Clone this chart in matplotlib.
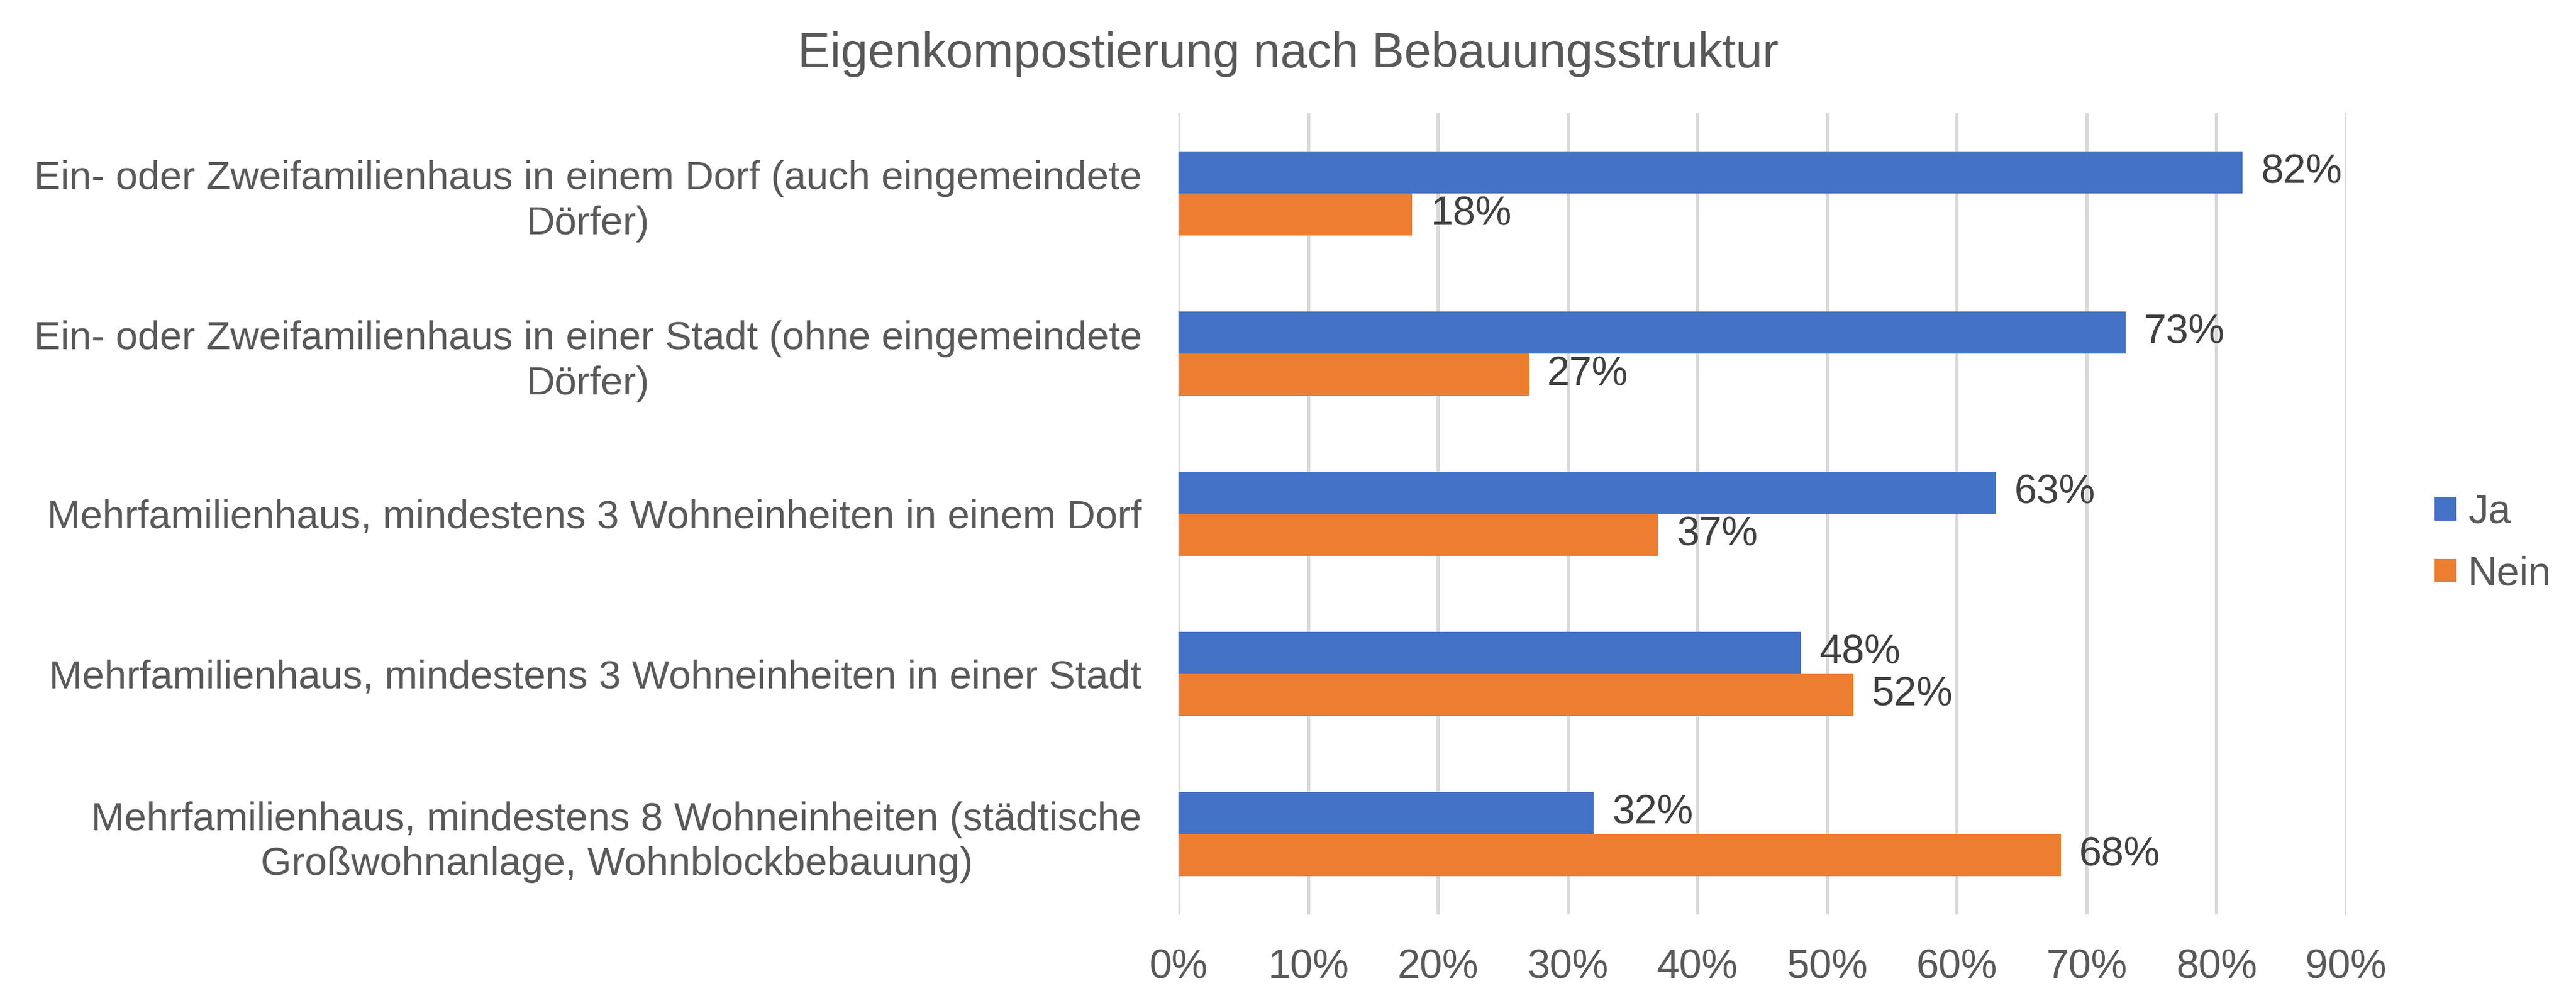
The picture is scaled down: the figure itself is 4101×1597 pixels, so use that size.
import numpy as np
import matplotlib
matplotlib.use("Agg")
import matplotlib.pyplot as plt

plt.rcParams['font.family'] = ['Liberation Sans', 'DejaVu Sans']

# data
categories = [
    "Ein- oder Zweifamilienhaus in einem Dorf (auch eingemeindete\nDörfer)",
    "Ein- oder Zweifamilienhaus in einer Stadt (ohne eingemeindete\nDörfer)",
    "Mehrfamilienhaus, mindestens 3 Wohneinheiten in einem Dorf",
    "Mehrfamilienhaus, mindestens 3 Wohneinheiten in einer Stadt",
    "Mehrfamilienhaus, mindestens 8 Wohneinheiten (städtische\nGroßwohnanlage, Wohnblockbebauung)",
]
ja = [0.82, 0.73, 0.63, 0.48, 0.32]
nein = [0.18, 0.27, 0.37, 0.52, 0.68]
series_names = ["Ja", "Nein"]
xticks = [0, 0.1, 0.2, 0.3, 0.4, 0.5, 0.6, 0.7, 0.8, 0.9]

text_col = '#595959'
label_col = '#404040'
blue = '#4472C4'
orange = '#ED7D31'

W, H = 4101, 1597
fig = plt.figure(figsize=(W / 300, H / 300), dpi=300)
ax = fig.add_axes([1876 / W, 1 - 1456 / H, (3735 - 1876) / W, (1456 - 180) / H])

pos = np.arange(len(categories))
h = 0.2625
b1 = ax.barh(pos - h / 2, ja, height=h, color=blue, label=series_names[0], zorder=3)
b2 = ax.barh(pos + h / 2, nein, height=h, color=orange, label=series_names[1], zorder=3)

for bars in (b1, b2):
    ax.bar_label(bars, labels=[f"{v * 100:.0f}%" for v in bars.datavalues],
                 padding=7, fontsize=15.5, color=label_col)

ax.set_xlim(0, 0.9)
ax.set_ylim(len(categories) - 0.5, -0.5)
ax.set_xticks(xticks)
ax.set_xticklabels([f"{t * 100:.0f}%" for t in xticks])
ax.set_yticks(pos)
ax.set_yticklabels(categories, multialignment='center', linespacing=1.27)
ax.tick_params(axis='x', length=0, labelsize=15.5, labelcolor=text_col, pad=13)
ax.tick_params(axis='y', length=0, labelsize=15.2, labelcolor=text_col, pad=14)
ax.grid(axis='x', color='#D9D9D9', linewidth=1.2, zorder=0)
for s in ax.spines.values():
    s.set_visible(False)

fig.text(0.5, 1 - 107 / H, "Eigenkompostierung nach Bebauungsstruktur",
         ha='center', va='baseline', fontsize=18.5, color=text_col)

fig.legend(loc='center left', bbox_to_anchor=(3876 / W, 1 - 865 / H),
           frameon=False, fontsize=15.5, labelcolor=text_col,
           handlelength=0.52, handleheight=0.52, handletextpad=0.3,
           labelspacing=0.6, borderpad=0, borderaxespad=0)

fig.savefig("out.png", dpi=300)
